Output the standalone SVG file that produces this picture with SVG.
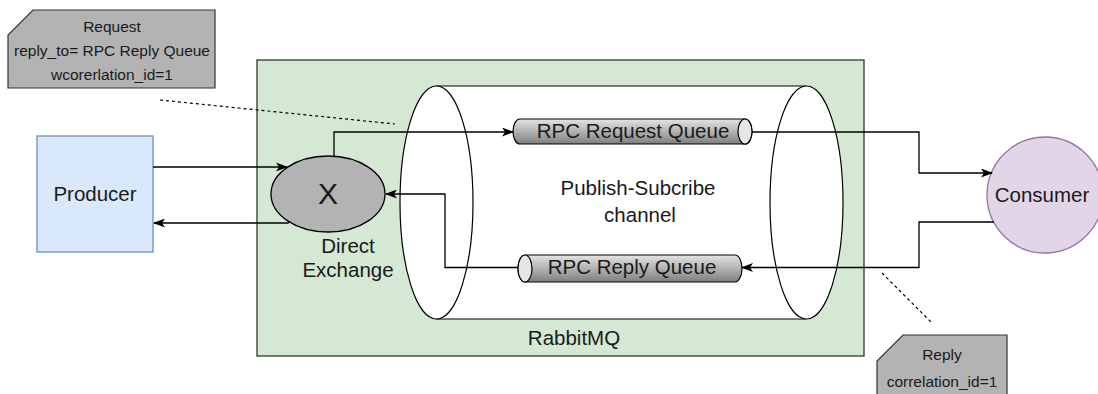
<svg xmlns="http://www.w3.org/2000/svg" width="1098" height="394" viewBox="0 0 1098 394">
<style>
text{font-family:"Liberation Sans",Arial,sans-serif;fill:#1a1a1a;text-anchor:middle}
.lbl{font-size:20.5px}
.note{font-size:15.5px}
.conn{fill:none;stroke:#000;stroke-width:1.3}
.dash{fill:none;stroke:#000;stroke-width:1.2;stroke-dasharray:3 3}
.q{stroke:#000;stroke-width:1.2;fill:url(#qg)}
.qe{stroke:#000;stroke-width:1.2;fill:#e6e6e6}
.n{fill:#b3b3b3;stroke:#333;stroke-width:1.2}
</style>
<defs>
<linearGradient id="qg" x1="0" y1="0" x2="0" y2="1">
<stop offset="0" stop-color="#e4e4e4"/>
<stop offset="1" stop-color="#7f7f7f"/>
</linearGradient>
<marker id="ar" viewBox="0 0 12 9" refX="11" refY="4.5" markerWidth="12" markerHeight="9" markerUnits="userSpaceOnUse" orient="auto">
<path d="M0,0 L12,4.5 L0,9 L3,4.5 Z" fill="#000"/>
</marker>
</defs>
<rect width="1098" height="394" fill="#fff"/>
<g id="rabbitmq">
<rect x="257" y="60" width="607" height="296" fill="#d5e8d4" stroke="#333" stroke-width="1.3"/>
<text class="lbl" x="574" y="345">RabbitMQ</text>
</g>
<g id="channel">
<rect x="436" y="86" width="370" height="233" fill="#fff"/>
<line x1="436" y1="86" x2="806" y2="86" stroke="#000" stroke-width="1.2"/>
<line x1="436" y1="319" x2="806" y2="319" stroke="#000" stroke-width="1.2"/>
<ellipse cx="436.5" cy="202.5" rx="36.5" ry="116.5" fill="#fff" stroke="#000" stroke-width="1.2"/>
<ellipse cx="806.5" cy="202.5" rx="36.5" ry="116.5" fill="#fff" stroke="#000" stroke-width="1.2"/>
<text class="lbl" x="638" y="195">Publish-Subcribe</text>
<text class="lbl" x="640" y="222">channel</text>
</g>
<g id="request-note">
<polygon class="n" points="33,10 215,10 215,88 8,88 8,35"/>
<text class="note" x="112" y="32">Request</text>
<text class="note" x="112" y="56">reply_to= RPC Reply Queue</text>
<text class="note" x="112" y="80">wcorerlation_id=1</text>
</g>
<g id="reply-note">
<polygon class="n" points="903,335 1007,335 1007,400 877,400 877,361"/>
<text class="note" x="942" y="360">Reply</text>
<text class="note" x="942" y="387">correlation_id=1</text>
</g>
<g id="producer">
<rect x="37" y="136" width="116" height="116" fill="#dae8fc" stroke="#6c8ebf" stroke-width="1.3"/>
<text class="lbl" x="95" y="201">Producer</text>
</g>
<g id="exchange">
<ellipse cx="328" cy="194" rx="57" ry="38" fill="#b3b3b3" stroke="#000" stroke-width="1.3"/>
<text x="328" y="204" style="font-size:30px">X</text>
<text class="lbl" x="348" y="253">Direct</text>
<text class="lbl" x="348" y="277">Exchange</text>
</g>
<g id="request-queue">
<path class="q" d="M520,119 H745 A7,12.5 0 0 1 745,144 H520 A7,12.5 0 0 1 520,119 Z"/>
<ellipse class="qe" cx="745" cy="131.5" rx="7" ry="12.5"/>
<text class="lbl" x="633" y="138">RPC Request Queue</text>
</g>
<g id="reply-queue">
<path class="q" d="M525,255 H735 A7,13.5 0 0 1 735,282 H525 A7,13.5 0 0 1 525,255 Z"/>
<ellipse class="qe" cx="525" cy="268.5" rx="7" ry="13.5"/>
<text class="lbl" x="632" y="274">RPC Reply Queue</text>
</g>
<g id="consumer">
<ellipse cx="1045" cy="195" rx="58" ry="58" fill="#e1d5e7" stroke="#9673a6" stroke-width="1.3"/>
<text class="lbl" x="1042" y="202">Consumer</text>
</g>
<g id="connectors">
<path class="conn" d="M153,167 H287" marker-end="url(#ar)"/>
<path class="conn" d="M289,222 L288,223 H154" marker-end="url(#ar)"/>
<path class="conn" d="M334,156 V132 H513" marker-end="url(#ar)"/>
<path class="conn" d="M752,132 H919 V173 H992" marker-end="url(#ar)"/>
<path class="conn" d="M994,222 H919 V267.5 H742" marker-end="url(#ar)"/>
<path class="conn" d="M518,267.5 H445 V194 H386" marker-end="url(#ar)"/>
<path class="dash" d="M160,100 L395,124"/>
<path class="dash" d="M882,273 L932,323"/>
</g>
</svg>
